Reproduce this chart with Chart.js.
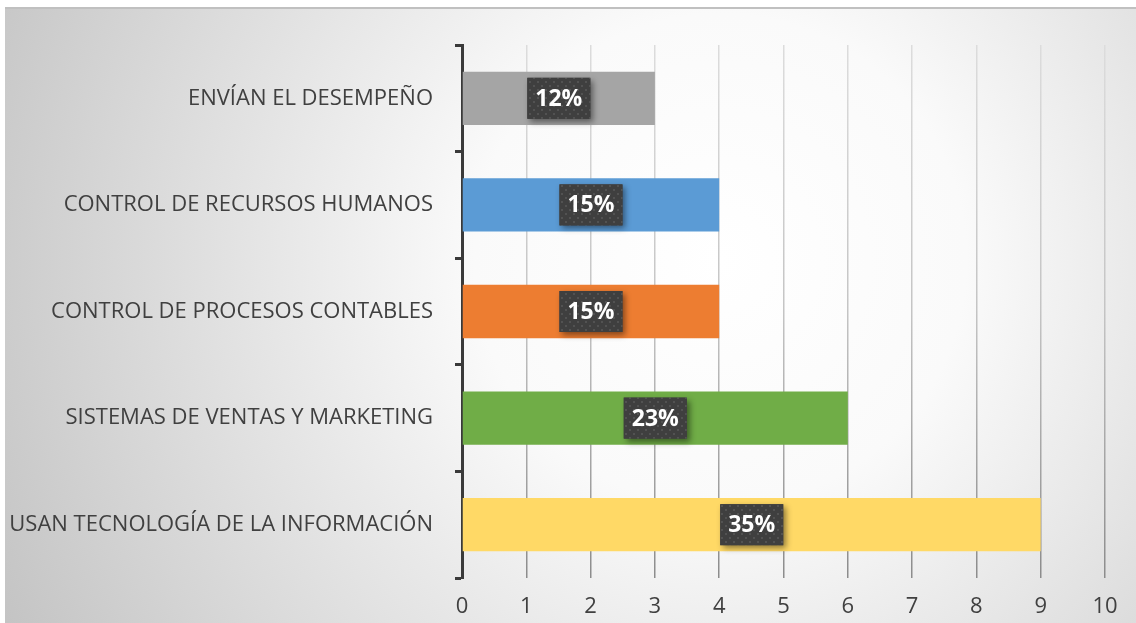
<!DOCTYPE html>
<html>
<head>
<meta charset="utf-8">
<script src="https://cdn.jsdelivr.net/npm/chart.js@4.4.1/dist/chart.umd.min.js"></script>
<style>
  html, body { margin: 0; padding: 0; background: #ffffff; }
  #wrap { width: 1136px; height: 623px; }
</style>
</head>
<body>
<div id="wrap"><canvas id="c" width="1136" height="623"></canvas></div>
<script>
const categories = [
  'ENVÍAN EL DESEMPEÑO',
  'CONTROL DE RECURSOS HUMANOS',
  'CONTROL DE PROCESOS CONTABLES',
  'SISTEMAS DE VENTAS Y MARKETING',
  'USAN TECNOLOGÍA DE LA INFORMACIÓN'
];
const values = [3, 4, 4, 6, 9];
const percentLabels = ['12%', '15%', '15%', '23%', '35%'];
const barColors = ['#a5a5a5', '#5b9bd5', '#ed7d31', '#70ad47', '#ffd966'];
const xMin = 0, xMax = 10, xStep = 1;

const FONT = '"Open Sans", "DejaVu Sans", sans-serif';

function makePattern(ctx) {
  const p = document.createElement('canvas');
  p.width = 8; p.height = 8;
  const pc = p.getContext('2d');
  pc.fillStyle = '#3f3f3f';
  pc.fillRect(0, 0, 8, 8);
  pc.fillStyle = '#525252';
  pc.fillRect(1, 1, 2, 2);
  pc.fillRect(5, 5, 2, 2);
  return ctx.createPattern(p, 'repeat');
}

const bgPlugin = {
  id: 'bg',
  beforeDraw(chart) {
    const ctx = chart.ctx;
    const W = chart.width, H = chart.height;
    ctx.save();
    ctx.fillStyle = '#ffffff';
    ctx.fillRect(0, 0, W, H);
    const g = ctx.createRadialGradient(720, 260, 0, 720, 260, 820);
    g.addColorStop(0, '#ffffff');
    g.addColorStop(0.3, '#fafafa');
    g.addColorStop(1, '#c2c2c2');
    ctx.fillStyle = g;
    ctx.fillRect(5, 8, W - 5, H - 8);
    ctx.fillStyle = '#c0c0c0';
    ctx.fillRect(5, 7, W - 5, 2);
    ctx.restore();
  }
};

const labelPlugin = {
  id: 'boxLabels',
  afterDatasetsDraw(chart) {
    const ctx = chart.ctx;
    const meta = chart.getDatasetMeta(0);
    const pat = makePattern(ctx);
    ctx.save();
    ctx.font = 'bold 23px ' + FONT;
    ctx.textAlign = 'center';
    ctx.textBaseline = 'middle';
    meta.data.forEach((bar, i) => {
      const cx = (bar.x + bar.base) / 2;
      const cy = bar.y;
      const w = 63, h = 41;
      ctx.save();
      ctx.shadowColor = 'rgba(0,0,0,0.45)';
      ctx.shadowBlur = 6;
      ctx.shadowOffsetX = 3;
      ctx.shadowOffsetY = 3;
      ctx.fillStyle = '#3f3f3f';
      ctx.fillRect(cx - w / 2, cy - h / 2, w, h);
      ctx.restore();
      ctx.fillStyle = pat;
      ctx.fillRect(cx - w / 2, cy - h / 2, w, h);
      ctx.fillStyle = '#ffffff';
      ctx.fillText(percentLabels[i], cx, cy + 1);
    });
    ctx.restore();
  }
};

function gridGradient(c) {
  const chart = c.chart;
  const a = chart.chartArea;
  if (!a) return '#c8c8c8';
  const g = chart.ctx.createLinearGradient(0, a.top, 0, a.bottom);
  g.addColorStop(0, '#dcdcdc');
  g.addColorStop(0.5, '#c4c4c4');
  g.addColorStop(1, '#8c8c8c');
  return g;
}

new Chart(document.getElementById('c'), {
  type: 'bar',
  data: {
    labels: categories,
    datasets: [{
      data: values,
      backgroundColor: barColors,
      borderWidth: 0,
      categoryPercentage: 1,
      barPercentage: 0.5
    }]
  },
  plugins: [bgPlugin, labelPlugin],
  options: {
    indexAxis: 'y',
    responsive: false,
    animation: false,
    devicePixelRatio: 1,
    layout: { padding: { left: 5, top: 45, right: 31, bottom: 0 } },
    plugins: { legend: { display: false }, tooltip: { enabled: false } },
    scales: {
      x: {
        min: xMin, max: xMax,
        afterFit(s) { s.height = 45; },
        ticks: { stepSize: xStep, color: '#404040', font: { family: FONT, size: 22 }, padding: 16 },
        grid: { color: gridGradient, lineWidth: 1.5, drawTicks: false },
        border: { display: false }
      },
      y: {
        afterFit(s) { s.width = 457; },
        ticks: { color: '#404040', font: { family: FONT, size: 22 }, padding: 22 },
        grid: { drawOnChartArea: false, drawTicks: true, tickLength: 7, tickColor: '#3a3a3a', tickWidth: 3, offset: true },
        border: { display: true, color: '#3a3a3a', width: 3 }
      }
    }
  }
});
</script>
</body>
</html>
